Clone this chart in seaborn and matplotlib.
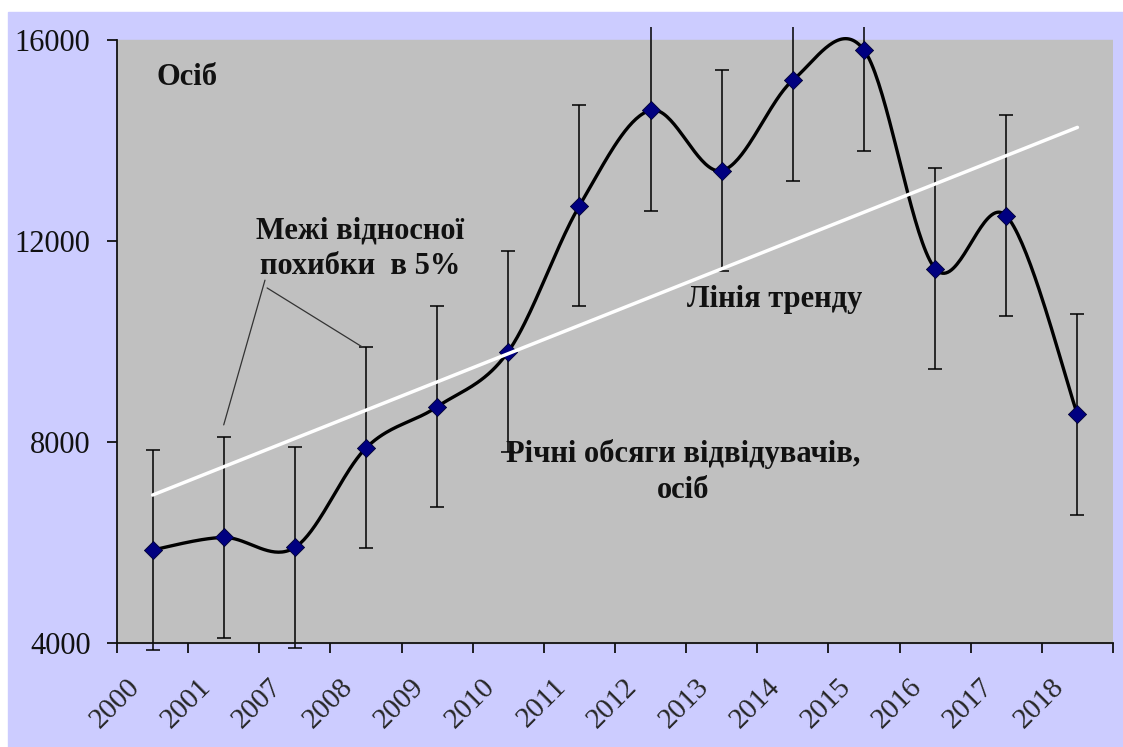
import numpy as np
import pandas as pd
import seaborn as sns
import matplotlib.pyplot as plt
from matplotlib.patches import Rectangle
from matplotlib.transforms import ScaledTranslation

# Data
years = ['2000', '2001', '2007', '2008', '2009', '2010', '2011',
         '2012', '2013', '2014', '2015', '2016', '2017', '2018']
visitors = [5850, 6100, 5900, 7880, 8700, 9800, 12700,
            14600, 13400, 15200, 15800, 11450, 12500, 8550]
errors = [2000, 2000, 2000, 2000, 2000, 2000, 2000,
          2000, 2000, 2000, 2000, 2000, 2000, 2000]
y_ticks = [4000, 8000, 12000, 16000]

df = pd.DataFrame({'year': years, 'pos': np.arange(len(years)), 'visitors': visitors})

sns.set_style("white")
plt.rcParams['font.family'] = ['Liberation Serif', 'DejaVu Serif']

BLUE = '#CCCCFF'
GRAY = '#C0C0C0'

fig = plt.figure(figsize=(11.23, 7.47), dpi=100)
fig.patch.set_facecolor('white')
fig.patches.append(Rectangle((8 / 1123, 0), 1115 / 1123, 735 / 747,
                             transform=fig.transFigure, color=BLUE, zorder=-10))
ax = fig.add_axes([117 / 1123, 0.1191, (1113 - 117) / 1123, 0.8442])
ax.set_facecolor((0, 0, 0, 0))
ax.set_xlim(-0.5, len(years) - 0.5)
ax.set_ylim(3700, 16250)
ax.axhspan(4000, 16000, color=GRAY, zorder=0)


# Excel-style smoothed line (Catmull-Rom through the points)
def smooth_curve(x, y, n=40):
    x = np.asarray(x, float)
    y = np.asarray(y, float)
    xp = np.concatenate([[x[0]], x, [x[-1]]])
    yp = np.concatenate([[y[0]], y, [y[-1]]])
    xs, ys = [], []
    for i in range(len(x) - 1):
        p0x, p1x, p2x, p3x = xp[i], xp[i + 1], xp[i + 2], xp[i + 3]
        p0y, p1y, p2y, p3y = yp[i], yp[i + 1], yp[i + 2], yp[i + 3]
        c1x, c1y = p1x + (p2x - p0x) / 6, p1y + (p2y - p0y) / 6
        c2x, c2y = p2x - (p3x - p1x) / 6, p2y - (p3y - p1y) / 6
        t = np.linspace(0, 1, n)
        b0, b1, b2, b3 = (1 - t) ** 3, 3 * t * (1 - t) ** 2, 3 * t ** 2 * (1 - t), t ** 3
        xs.extend(b0 * p1x + b1 * c1x + b2 * c2x + b3 * p2x)
        ys.extend(b0 * p1y + b1 * c1y + b2 * c2y + b3 * p2y)
    return np.array(xs), np.array(ys)


ax.errorbar(df['pos'], df['visitors'], yerr=errors, fmt='none', ecolor='black',
            elinewidth=1.1, capsize=5, capthick=1.1, zorder=2)

sx, sy = smooth_curve(df['pos'], df['visitors'])
sns.lineplot(x=sx, y=sy, sort=False, color='black', linewidth=2.4, ax=ax, zorder=3)

sns.scatterplot(data=df, x='pos', y='visitors', marker='D', s=85, color='#000080',
                edgecolor='#000033', linewidth=0.6, ax=ax, zorder=4)

# linear trend line
sns.regplot(data=df, x='pos', y='visitors', scatter=False, ci=None, truncate=True,
            line_kws={'color': 'white', 'linewidth': 2.5, 'zorder': 5}, ax=ax)

# axes styling
for s in ['top', 'right']:
    ax.spines[s].set_visible(False)
ax.spines['left'].set_bounds(4000, 16000)
ax.spines['bottom'].set_position(('data', 4000))
for s in ['left', 'bottom']:
    ax.spines[s].set_color('#111111')
    ax.spines[s].set_linewidth(1.3)

ax.set_yticks(y_ticks)
ax.set_yticklabels([str(v) for v in y_ticks])
ax.tick_params(axis='y', direction='out', length=7, width=1.3, pad=12,
               labelsize=22, colors='#111111', left=True)

ax.set_xticks(np.arange(len(years) + 1) - 0.5)
ax.set_xticklabels([])
ax.tick_params(axis='x', which='major', direction='out', length=7, width=1.3,
               colors='#111111', bottom=True)
ax.set_xticks(np.arange(len(years)), labels=years, minor=True)
ax.tick_params(axis='x', which='minor', length=0, pad=22, labelsize=21)
shift = ScaledTranslation(-8 / 100, 0, fig.dpi_scale_trans)
for lab in ax.get_xticklabels(minor=True):
    lab.set_rotation(45)
    lab.set_ha('right')
    lab.set_va('top')
    lab.set_transform(lab.get_transform() + shift)

ax.set_xlabel('')
ax.set_ylabel('')

# annotations
tkw = dict(fontsize=22, fontweight='bold', color='#111111', zorder=6)
ax.text(0.06, 15260, 'Осіб', ha='left', va='center', **tkw)
ax.text(2.92, 11840, 'Межі відносної\nпохибки  в 5%', ha='center', va='center',
        multialignment='center', linespacing=1.3, **tkw)
ax.text(8.75, 10830, 'Лінія тренду', ha='center', va='center', **tkw)
ax.text(7.46, 7400, 'Річні обсяги відвідувачів,\nосіб', ha='center', va='center',
        multialignment='center', linespacing=1.3, **tkw)

# leader lines to the error-bar caps
ax.plot([1.58, 1], [11220, visitors[1] + errors[1] + 240], color='#333333', lw=0.9, zorder=6)
ax.plot([1.61, 3 - 0.04], [11065, visitors[3] + errors[3]], color='#333333', lw=0.9, zorder=6)

fig.savefig('out.png', dpi=100)
